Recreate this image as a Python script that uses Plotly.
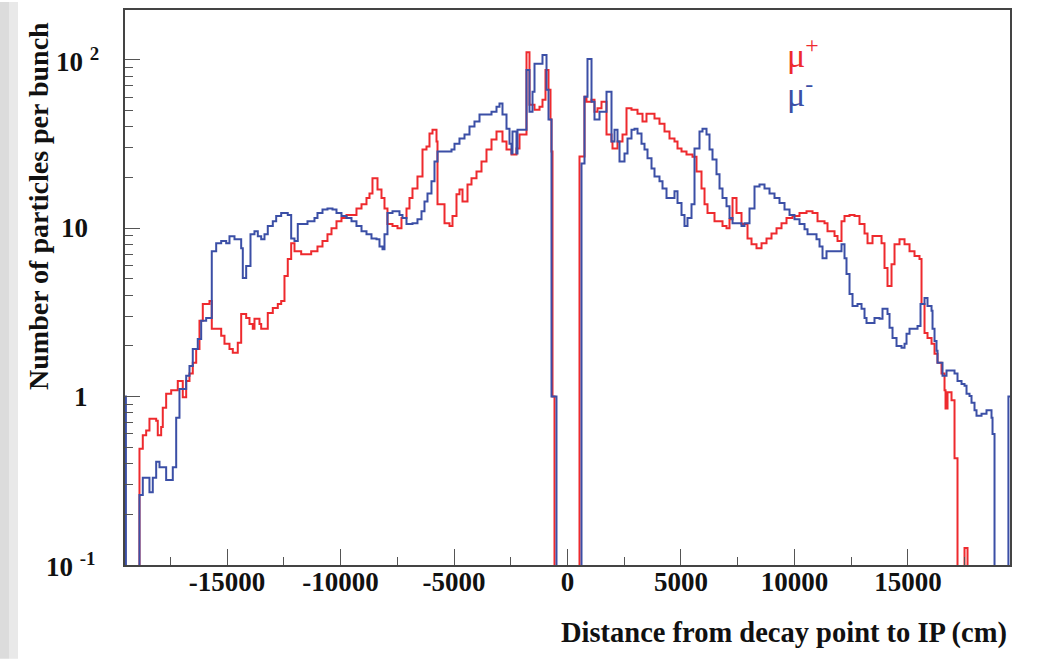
import math
import plotly.graph_objects as go

# ---------------- data (distance in cm, particles per bunch) ----------------
# step-histogram change points; 0 = empty bin
mu_plus_x = [-19500, -18862, -18716, -18567, -18422, -18126, -18056, -17906, -17835, -17686,
             -17465, -17174, -16954, -16804, -16658, -16513, -16363, -16218, -16072, -15777,
             -15676, -15261, -15116, -14896, -14750, -14530, -14380, -14160, -14014, -13869,
             -13794, -13574, -13498, -13208, -12987, -12767, -12617, -12472, -12327, -12177,
             -12031, -11736, -11295, -11018, -10797, -10577, -10400, -10180, -9960, -9739,
             -9299, -9078, -8858, -8726, -8594, -8373, -8197, -8065, -7933, -7712,
             -7492, -7316, -7095, -6963, -6831, -6611, -6390, -6214, -6082, -5949,
             -5773, -5729, -5420, -5200, -5068, -4892, -4760, -4627, -4407, -4231,
             -4010, -3790, -3570, -3349, -3129, -2865, -2688, -2468, -2248, -2115,
             -1807, -1675, -1454, -1234, -1102, -970, -837, -749, -705, -661,
             -573, 529, 749, 837, 1058, 1190, 1322, 1498, 1719, 1939,
             1983, 2204, 2424, 2600, 2820, 3085, 3305, 3481, 3834, 4054,
             4275, 4495, 4715, 4848, 5024, 5244, 5509, 5685, 5905, 6038,
             6170, 6478, 6831, 7007, 7139, 7272, 7448, 7668, 7933, 8109,
             8329, 8550, 8770, 8990, 9211, 9431, 9651, 9916, 10224, 10533,
             10797, 11018, 11326, 11458, 11767, 11899, 12075, 12207, 12428, 12648,
             12868, 13089, 13221, 13441, 13838, 13970, 14102, 14279, 14411, 14631,
             14852, 15072, 15292, 15512, 15601, 15733, 15865, 16042, 16174, 16306,
             16482, 16615, 16659, 16747, 16923, 17055, 17187, 17496, 17628, 19500]
mu_plus_y = [0, 0.49, 0.59, 0.63, 0.74, 0.72, 0.59, 0.66, 0.86, 1.04,
             1.09, 1.24, 0.99, 1.24, 1.37, 1.59, 1.92, 2.82, 3.55, 3.7,
             2.53, 2.3, 2.06, 1.92, 1.82, 2.09, 3.1, 2.93, 2.7, 2.53,
             2.9, 2.7, 2.53, 3.14, 3.36, 3.55, 3.7, 5.2, 6.56, 8.15,
             7.3, 7.0, 7.3, 7.8, 8.4, 9.2, 10, 11, 11.5, 12,
             13.1, 13.9, 15.1, 16.1, 19.8, 17, 15.1, 13.1, 10.6, 10.3,
             10, 11.5, 13.1, 15.1, 17.2, 20.3, 29.3, 30.6, 36.5, 38.5,
             32.7, 13.9, 10.7, 10.3, 11.8, 15.9, 17, 14.4, 18.2, 19.8,
             21.7, 24.9, 29.3, 33.6, 37.5, 32.7, 29.3, 27.4, 29.7, 36,
             111, 54.2, 50.6, 52.7, 58, 87, 66.4, 44.2, 28.6, 1.0,
             0, 26.7, 60.4, 56.4, 58, 49.2, 51.5, 56.4, 36, 32.7,
             29.7, 32.7, 36, 51.5, 50.6, 47.9, 43, 47.9, 44.8, 41.8,
             37.5, 34.1, 32.7, 29.7, 28.6, 27.4, 26.6, 21.7, 17.2, 13.9,
             12.3, 11, 10.3, 10, 11.3, 15.1, 12.3, 10.6, 8.7, 8.04,
             7.6, 8.15, 8.7, 9.3, 10, 10.7, 11.5, 11.8, 12.3, 12.6,
             12.3, 11, 10.7, 9.6, 9.0, 8.4, 11, 11.8, 12, 11.8,
             10.6, 9.3, 8.15, 9.0, 8.15, 5.8, 4.54, 6.12, 8.04, 8.6,
             8.04, 7.3, 6.83, 6.56, 3.55, 2.39, 2.23, 2.06, 1.8, 1.59,
             1.37, 1.09, 0.85, 1.06, 0.95, 0.43, 0, 0.126, 0, 0]

mu_minus_x = [-19500, -19500, -19460, -18862, -18716, -18422, -18276, -18126, -17980, -17686,
              -17394, -17244, -17099, -16804, -16658, -16513, -16293, -16143, -15923, -15676,
              -15482, -15261, -15041, -14896, -14675, -14380, -14309, -14160, -13970, -13794,
              -13648, -13498, -13353, -13208, -12987, -12838, -12617, -12327, -12177, -12031,
              -11886, -11458, -11150, -11018, -10797, -10577, -10356, -10180, -9960, -9739,
              -9519, -9299, -9078, -8858, -8638, -8417, -8285, -8153, -8065, -7933,
              -7712, -7404, -7272, -7095, -6831, -6611, -6434, -6302, -6170, -5994,
              -5861, -5729, -5112, -4980, -4760, -4539, -4319, -4099, -3878, -3349,
              -3129, -2997, -2865, -2688, -2556, -2468, -2424, -2248, -2204, -1807,
              -1675, -1542, -1454, -1102, -925, -837, -705, -485, 617, 749,
              881, 1058, 1190, 1410, 1719, 1939, 2071, 2204, 2292, 2512,
              2644, 2820, 2953, 3085, 3261, 3393, 3526, 3702, 3834, 4054,
              4187, 4363, 4715, 4848, 5024, 5156, 5288, 5465, 5597, 5817,
              5949, 6126, 6258, 6390, 6566, 6699, 6831, 7007, 7139, 7272,
              7668, 7800, 8021, 8241, 8461, 8682, 8902, 9122, 9343, 9563,
              9784, 10004, 10224, 10445, 10577, 10973, 11106, 11238, 11414, 12075,
              12207, 12295, 12428, 12560, 12780, 12957, 13089, 13177, 13529, 13750,
              13882, 14102, 14191, 14323, 14499, 14719, 14852, 14940, 15072, 15425,
              15557, 15733, 15865, 16042, 16086, 16174, 16262, 16306, 16526, 16703,
              17055, 17187, 17364, 17496, 17584, 17716, 17804, 17936, 18024, 18245,
              18465, 18685, 18730, 18818, 19430, 19500]
mu_minus_y = [0, 1.0, 0, 0.26, 0.33, 0.27, 0.33, 0.41, 0.38, 0.32,
              0.38, 0.75, 1.11, 1.33, 1.52, 1.92, 2.2, 2.82, 2.93, 7.3,
              8.15, 8.4, 8.15, 8.97, 8.6, 7.6, 5.06, 5.96, 9.2, 9.6,
              8.97, 8.6, 9.2, 10.3, 11, 11.8, 12.3, 12, 8.7, 8.4,
              10.6, 11, 11.5, 12.3, 12.9, 13.1, 12.9, 12.3, 11.8, 11.5,
              11, 10.3, 9.6, 9.2, 8.7, 8.6, 7.8, 7.5, 9.2, 12.3,
              12.6, 12, 11.5, 10.6, 10.7, 11.3, 12.6, 14.4, 16.1, 19,
              24.9, 28.6, 29.3, 31.8, 34.1, 36, 40.2, 43, 47.3, 49.2,
              52.7, 55, 47.3, 39, 31.8, 27.8, 37.5, 27.8, 38.5, 87,
              49.2, 64.7, 94.7, 107, 66.4, 44.2, 1.0, 0, 24.2, 60.4,
              101, 56.4, 44.2, 49.2, 64.7, 32.7, 38.5, 32.7, 24.9, 27.8,
              34.1, 38.5, 39, 36.5, 31.8, 29.3, 26, 22.6, 20.3, 19,
              17.2, 15.1, 16.6, 14.1, 12, 10.3, 11.5, 13.9, 29.7, 37.5,
              39, 36, 29.3, 25.6, 20.9, 17.2, 15.1, 13.5, 11.5, 10.7,
              10.3, 10.7, 13.1, 17.7, 18.2, 17.2, 16.1, 15.1, 14.1, 12.9,
              12, 11.3, 10.6, 9.86, 9.2, 8.6, 7.8, 6.64, 7.3, 8.04,
              6.64, 5.34, 4.07, 3.45, 3.55, 3.32, 2.93, 2.74, 2.93, 2.9,
              3.32, 3.1, 2.56, 2.23, 2.0, 1.95, 2.06, 2.36, 2.53, 2.63,
              3.55, 3.85, 3.45, 3.23, 2.53, 2.14, 1.87, 1.59, 1.33, 1.43,
              1.37, 1.24, 1.19, 1.16, 1.04, 1.01, 0.92, 0.83, 0.77, 0.79,
              0.83, 0.75, 0.60, 0, 1.0, 1.0]

x_tick_vals = [-15000, -10000, -5000, 0, 5000, 10000, 15000]
x_tick_text = ["-15000", "-10000", "-5000", "0", "5000", "10000", "15000"]
y_tick_vals = [0.1, 1, 10, 100]
y_tick_text = ["10\u00a0<sup>-1</sup>", "1", "10", "10\u00a0<sup>2</sup>"]
y_minor_vals = [0.2, 0.3, 0.4, 0.5, 0.6, 0.7, 0.8, 0.9,
                2, 3, 4, 5, 6, 7, 8, 9,
                20, 30, 40, 50, 60, 70, 80, 90]

# ---------------- styling ----------------
RED = "#ee2a2e"
BLUE = "#3b4fa6"
SERIF = "Liberation Serif, Times New Roman, serif"
W, H = 1038, 659
ML, MR, MT, MB = 125, 28, 8, 94
PW, PH = W - ML - MR, H - MT - MB
YLOG = (-1, 2.296)
Y_LABEL_RIGHT = [98, 90, 90, 101]  # right edge (px) of each y tick label, ROOT style


def px_x(px):
    return (px - ML) / PW


def px_y(py):
    return (H - MB - py) / PH


EMPTY = 1e-3  # drawn below the axis floor


def for_log(vals):
    return [v if v > 0 else EMPTY for v in vals]


fig = go.Figure()
fig.add_trace(go.Scatter(x=mu_plus_x, y=for_log(mu_plus_y), mode="lines",
                         line=dict(shape="hv", color=RED, width=2), name="mu+",
                         showlegend=False))
fig.add_trace(go.Scatter(x=mu_minus_x, y=for_log(mu_minus_y), mode="lines",
                         line=dict(shape="hv", color=BLUE, width=2), name="mu-",
                         showlegend=False))

label_font = dict(family=SERIF, size=27, color="#111111", weight="bold")

annotations = []
for v, t, right in zip(y_tick_vals, y_tick_text, Y_LABEL_RIGHT):
    frac = (math.log10(v) - YLOG[0]) / (YLOG[1] - YLOG[0])
    annotations.append(dict(text=t, xref="paper", yref="paper",
                            x=px_x(right), y=frac,
                            xanchor="right", yanchor="middle", showarrow=False,
                            font=label_font))

annotations += [
    dict(text="Number of particles per bunch", xref="paper", yref="paper",
         x=px_x(39), y=px_y(18), xanchor="center", yanchor="top", textangle=-90,
         showarrow=False, font=dict(family=SERIF, size=28, color="#111111", weight="bold")),
    dict(text="Distance from decay point to IP (cm)", xref="paper", yref="paper",
         x=px_x(1009), y=px_y(633), xanchor="right", yanchor="middle",
         showarrow=False, font=dict(family=SERIF, size=28.5, color="#111111", weight="bold")),
    dict(text="\u03bc<sup>+</sup>", xref="paper", yref="paper",
         x=px_x(785), y=px_y(51), xanchor="left", yanchor="middle",
         showarrow=False, font=dict(family=SERIF, size=34, color=RED)),
    dict(text="\u03bc<sup>-</sup>", xref="paper", yref="paper",
         x=px_x(785), y=px_y(90), xanchor="left", yanchor="middle",
         showarrow=False, font=dict(family=SERIF, size=34, color=BLUE)),
]

fig.update_layout(
    width=W, height=H, autosize=False,
    margin=dict(l=ML, r=MR, t=MT, b=MB, pad=0),
    paper_bgcolor="white", plot_bgcolor="white",
    xaxis=dict(
        range=[-19500, 19500], tickmode="array", tickvals=x_tick_vals, ticktext=x_tick_text,
        ticks="inside", ticklen=16, tickwidth=1, tickcolor="#555555",
        showline=True, linecolor="#444444", linewidth=1.5, mirror=True,
        showgrid=False, zeroline=False, tickfont=label_font, ticklabelstandoff=-8,
        minor=dict(ticks="inside", ticklen=8, tickwidth=1, tickcolor="#555555",
                   dtick=2500, tick0=0, showgrid=False),
    ),
    yaxis=dict(
        type="log", range=list(YLOG), tickmode="array", tickvals=y_tick_vals,
        showticklabels=False, ticks="inside", ticklen=15, tickwidth=1,
        tickcolor="#555555", showline=True, linecolor="#444444", linewidth=1.5,
        mirror=True, showgrid=False, zeroline=False,
        minor=dict(ticks="inside", ticklen=8, tickwidth=1, tickcolor="#555555",
                   tickmode="array", tickvals=y_minor_vals, showgrid=False),
    ),
    shapes=[
        dict(type="rect", xref="paper", yref="paper", layer="below",
             x0=px_x(0), x1=px_x(9), y0=px_y(H), y1=px_y(0),
             fillcolor="#dcdcdc", line=dict(width=0)),
        dict(type="rect", xref="paper", yref="paper", layer="below",
             x0=px_x(9), x1=px_x(18), y0=px_y(H), y1=px_y(0),
             fillcolor="#e9e9e9", line=dict(width=0)),
    ],
    annotations=annotations,
)

fig.write_html("out.html")
